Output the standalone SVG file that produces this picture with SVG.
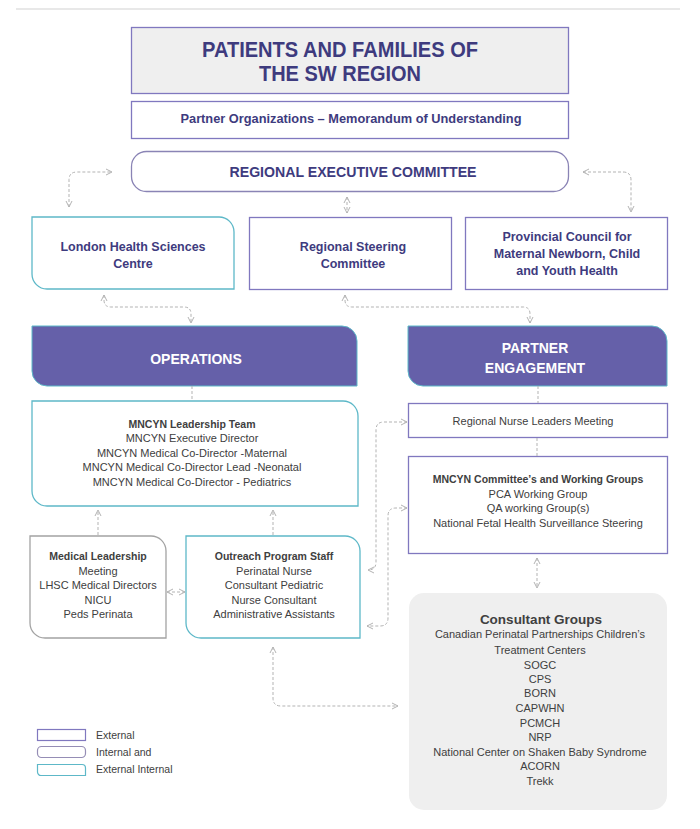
<svg xmlns="http://www.w3.org/2000/svg" width="700" height="829" viewBox="0 0 700 829">
<defs>
<marker id="ah" viewBox="0 0 8 8" refX="7" refY="4" markerWidth="8" markerHeight="8" markerUnits="userSpaceOnUse" orient="auto-start-reverse">
<path d="M1,1 L7,4 L1,7" fill="none" stroke="#b3b3b3" stroke-width="1"/>
</marker>
</defs>
<style>
.ext{fill:#fff;stroke:#8078bf;stroke-width:1.3}
.teal{fill:#fff;stroke:#5db8c8;stroke-width:1.3}
.gray{fill:#fff;stroke:#a3a3a3;stroke-width:1.3}
.hd{font-family:"Liberation Sans",Arial,sans-serif;font-weight:bold;fill:#3e3b7e;text-anchor:middle}
.bd{font-family:"Liberation Sans",Arial,sans-serif;font-size:11px;fill:#404040;text-anchor:middle}
.bb{font-family:"Liberation Sans",Arial,sans-serif;font-size:10.5px;font-weight:bold;fill:#404040;text-anchor:middle}
.wh{font-family:"Liberation Sans",Arial,sans-serif;font-weight:bold;font-size:14px;fill:#fff;text-anchor:middle}
.con{fill:none;stroke:#b3b3b3;stroke-width:1;stroke-dasharray:3,2}
.lg{font-family:"Liberation Sans",Arial,sans-serif;font-size:10.5px;fill:#404040}
</style>
<line x1="16" y1="9" x2="680" y2="9" stroke="#e8e8e8" stroke-width="2"/>

<g id="patients">
<rect x="131.5" y="27.5" width="437" height="66" fill="#efefef" stroke="#8078bf" stroke-width="1.3"/>
<text class="hd" x="340" y="57" font-size="22" textLength="276" lengthAdjust="spacingAndGlyphs">PATIENTS AND FAMILIES OF</text>
<text class="hd" x="340" y="81" font-size="22" textLength="162" lengthAdjust="spacingAndGlyphs">THE SW REGION</text>
</g>
<g id="partner-orgs">
<rect class="ext" x="131.5" y="101.5" width="437" height="37"/>
<text class="hd" x="351" y="123" font-size="12" textLength="341" lengthAdjust="spacingAndGlyphs">Partner Organizations – Memorandum of Understanding</text>
</g>
<g id="rec">
<rect x="131.5" y="151.5" width="437" height="40" rx="15" fill="#fff" stroke="#8a84b5" stroke-width="1.3"/>
<text class="hd" x="353" y="177" font-size="14" textLength="247" lengthAdjust="spacingAndGlyphs">REGIONAL EXECUTIVE COMMITTEE</text>
</g>
<g id="lhsc">
<path class="teal" d="M32,217 H219 A15,15 0 0 1 234,232 V289 H47 A15,15 0 0 1 32,274 Z"/>
<text class="hd" x="133" y="251" font-size="12.5">London Health Sciences</text>
<text class="hd" x="133" y="268" font-size="12.5">Centre</text>
</g>
<g id="steering">
<rect class="ext" x="249.5" y="217.5" width="202" height="72"/>
<text class="hd" x="353" y="251" font-size="12.5">Regional Steering</text>
<text class="hd" x="353" y="268" font-size="12.5">Committee</text>
</g>
<g id="provincial">
<rect class="ext" x="465.5" y="217.5" width="202" height="72"/>
<text class="hd" x="567" y="241" font-size="12.5">Provincial Council for</text>
<text class="hd" x="567" y="258" font-size="12.5">Maternal Newborn, Child</text>
<text class="hd" x="567" y="275" font-size="12.5">and Youth Health</text>
</g>
<g id="operations">
<path d="M32,326 H342 A15,15 0 0 1 357,341 V386 H47 A15,15 0 0 1 32,371 Z" fill="#6560a9" stroke="#5db8c8" stroke-width="1"/>
<text class="wh" x="196" y="364">OPERATIONS</text>
</g>
<g id="partner-engagement">
<path d="M408,326 H652 A15,15 0 0 1 667,341 V386 H423 A15,15 0 0 1 408,371 Z" fill="#6560a9" stroke="#5db8c8" stroke-width="1"/>
<text class="wh" x="535" y="353">PARTNER</text>
<text class="wh" x="535" y="373">ENGAGEMENT</text>
</g>
<g id="leadership">
<path class="teal" d="M32,401 H343 A15,15 0 0 1 358,416 V506 H47 A15,15 0 0 1 32,491 Z"/>
<text class="bb" x="192" y="428">MNCYN Leadership Team</text>
<text class="bd" x="192" y="442">MNCYN Executive Director</text>
<text class="bd" x="192" y="457">MNCYN Medical Co-Director -Maternal</text>
<text class="bd" x="192" y="471">MNCYN Medical Co-Director Lead -Neonatal</text>
<text class="bd" x="192" y="486">MNCYN Medical Co-Director - Pediatrics</text>
</g>
<g id="medical-leadership">
<path class="gray" d="M30,536 H151 A15,15 0 0 1 166,551 V638 H45 A15,15 0 0 1 30,623 Z"/>
<text class="bb" x="98" y="560">Medical Leadership</text>
<text class="bd" x="98" y="575">Meeting</text>
<text class="bd" x="98" y="589">LHSC Medical Directors</text>
<text class="bd" x="98" y="604">NICU</text>
<text class="bd" x="98" y="618">Peds Perinata</text>
</g>
<g id="outreach">
<path class="teal" d="M186,536 H345 A15,15 0 0 1 360,551 V638 H201 A15,15 0 0 1 186,623 Z"/>
<text class="bb" x="274" y="560">Outreach Program Staff</text>
<text class="bd" x="274" y="575">Perinatal Nurse</text>
<text class="bd" x="274" y="589">Consultant Pediatric</text>
<text class="bd" x="274" y="604">Nurse Consultant</text>
<text class="bd" x="274" y="618">Administrative Assistants</text>
</g>
<g id="nurse-leaders">
<rect class="ext" x="408.5" y="403.5" width="259" height="34"/>
<text class="bd" x="533" y="425">Regional Nurse Leaders Meeting</text>
</g>
<g id="committees">
<rect class="ext" x="408.5" y="456.5" width="259" height="97"/>
<text class="bb" x="538" y="483">MNCYN Committee’s and Working Groups</text>
<text class="bd" x="538" y="498">PCA Working Group</text>
<text class="bd" x="538" y="512">QA working Group(s)</text>
<text class="bd" x="538" y="527">National Fetal Health Surveillance Steering</text>
</g>
<g id="consultant-groups">
<rect x="409" y="593" width="258" height="217" rx="15" fill="#efefef"/>
<text class="bb" x="541" y="624" style="font-size:13.5px">Consultant Groups</text>
<text class="bd" x="540" y="638">Canadian Perinatal Partnerships Children’s</text>
<text class="bd" x="540" y="654">Treatment Centers</text>
<text class="bd" x="540" y="669">SOGC</text>
<text class="bd" x="540" y="683">CPS</text>
<text class="bd" x="540" y="697">BORN</text>
<text class="bd" x="540" y="712">CAPWHN</text>
<text class="bd" x="540" y="727">PCMCH</text>
<text class="bd" x="540" y="741">NRP</text>
<text class="bd" x="540" y="756">National Center on Shaken Baby Syndrome</text>
<text class="bd" x="540" y="770">ACORN</text>
<text class="bd" x="540" y="785">Trekk</text>
</g>

<g id="connectors">
<path class="con" d="M69,207 V180 Q69,172 77,172 H112" marker-start="url(#ah)" marker-end="url(#ah)"/>
<path class="con" d="M347,197 V213" marker-start="url(#ah)" marker-end="url(#ah)"/>
<path class="con" d="M583,172 H623 Q631,172 631,180 V212" marker-start="url(#ah)" marker-end="url(#ah)"/>
<path class="con" d="M104,295 V300 Q104,307 111,307 H184 Q191,307 191,314 V323" marker-start="url(#ah)" marker-end="url(#ah)"/>
<path class="con" d="M345,295 V300 Q345,307 352,307 H523 Q530,307 530,314 V323" marker-start="url(#ah)" marker-end="url(#ah)"/>
<path class="con" d="M192,386 V401"/>
<path class="con" d="M538,386 V403"/>
<path class="con" d="M537,438 V456"/>
<path class="con" d="M98,535 V510" marker-end="url(#ah)"/>
<path class="con" d="M273,535 V510" marker-end="url(#ah)"/>
<path class="con" d="M167,592 H185" marker-start="url(#ah)" marker-end="url(#ah)"/>
<path class="con" d="M407,422 H384 Q376,422 376,430 V562 Q376,570 368,570" marker-start="url(#ah)" marker-end="url(#ah)"/>
<path class="con" d="M407,508 H396 Q388,508 388,516 V618 Q388,626 380,626 H367" marker-start="url(#ah)" marker-end="url(#ah)"/>
<path class="con" d="M537,558 V588" marker-start="url(#ah)" marker-end="url(#ah)"/>
<path class="con" d="M273,647 V698 Q273,706 281,706 H398" marker-start="url(#ah)" marker-end="url(#ah)"/>
</g>

<g id="legend">
<rect x="37.5" y="729.5" width="48" height="11" fill="#fff" stroke="#8078bf" stroke-width="1.2"/>
<rect x="37.5" y="746.5" width="48" height="11" rx="4" fill="#fff" stroke="#958db5" stroke-width="1.2"/>
<path d="M37.5,764.5 H82 A3.5,3.5 0 0 1 85.5,768 V775.5 H41 A3.5,3.5 0 0 1 37.5,772 Z" fill="#fff" stroke="#5db8c8" stroke-width="1.2"/>
<text class="lg" x="96" y="739">External</text>
<text class="lg" x="96" y="756">Internal and</text>
<text class="lg" x="96" y="773">External Internal</text>
</g>
</svg>
